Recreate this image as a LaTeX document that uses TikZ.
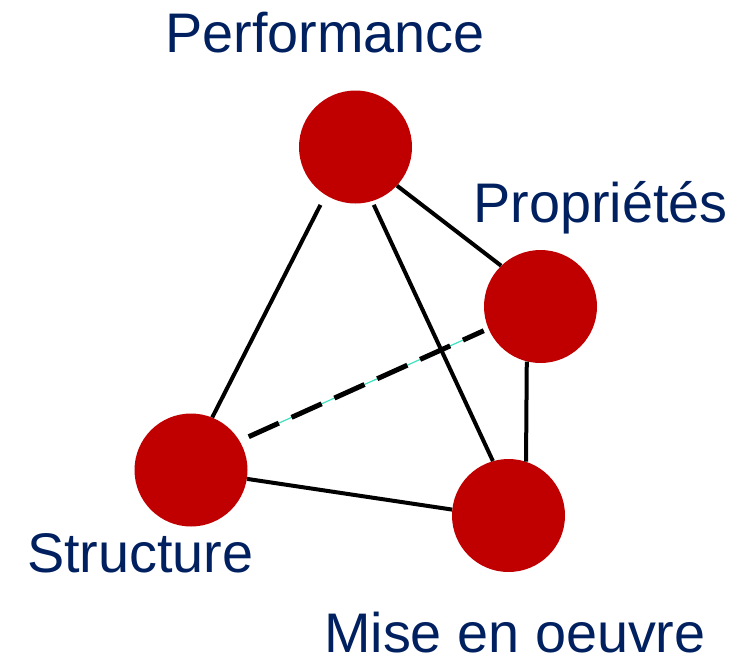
\documentclass[tikz,border=0pt]{standalone}
\usepackage{fontspec}
\setmainfont{Liberation Sans}
\definecolor{ballred}{RGB}{192,0,0}
\definecolor{labelblue}{RGB}{0,32,96}
\definecolor{gapcyan}{RGB}{64,224,192}
\begin{document}
\begin{tikzpicture}[x=1pt,y=-1pt,
  ball/.style={circle,fill=ballred,draw=none,minimum size=113pt,inner sep=0pt},
  lbl/.style={anchor=base west,inner sep=0pt,text=labelblue,font=\fontsize{55.8}{60}\selectfont},
  edge/.style={draw=black,line width=4pt},
  hidden/.style={draw=black,line width=5pt,dash pattern=on 33pt off 14pt},
  hiddengap/.style={draw=gapcyan,line width=1.2pt}]
\useasboundingbox (0,0) rectangle (749,654);
\node[ball] (perf) at (355.5,147) {};
\node[ball] (prop) at (540.5,306.5) {};
\node[ball] (struct) at (191,470) {};
\node[ball] (mise) at (508.5,515.5) {};
\draw[hiddengap,shorten <=10pt,shorten >=5pt] (struct.31.6) -- (prop.-157.4);
\draw[hidden,shorten <=10pt,shorten >=5pt] (struct.31.6) -- (prop.-157.4);
\draw[edge,shorten <=11pt] (perf.-122) -- (struct.68);
\draw[edge] (perf.-43) -- (prop.134);
\draw[edge,shorten <=4pt] (perf.-73) -- (mise.106);
\draw[edge] (prop.-104) -- (mise.72);
\draw[edge] (struct.-9) -- (mise.174);
\node[lbl] (tperf) at (165,52) {Performance};
\node[lbl] (tprop) at (473,222) {Propriétés};
\node[lbl] (tstruct) at (27,572) {Structure};
\node[lbl] (tmise) at (324,652) {Mise en oeuvre};
\end{tikzpicture}
\end{document}
